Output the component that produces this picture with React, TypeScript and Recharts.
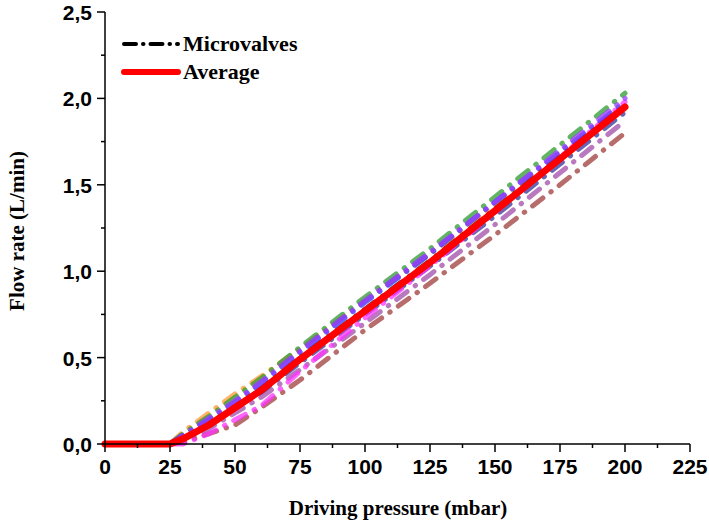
import { LineChart, Line, XAxis, YAxis } from 'recharts'

// driving pressure (mbar)
const pressure = [0, 25, 30, 40, 50, 60, 75, 100, 125, 150, 175, 200]

// flow rate (L/min) per microvalve
const orange = [0, 0, 0.07, 0.18, 0.29, 0.39, 0.55, 0.83, 1.1, 1.38, 1.67, 1.96]
const green = [0, 0, 0.06, 0.16, 0.27, 0.38, 0.56, 0.85, 1.13, 1.43, 1.73, 2.03]
const violet = [0, 0, 0.05, 0.15, 0.25, 0.36, 0.54, 0.83, 1.11, 1.4, 1.7, 2.0]
const blue = [0, 0, 0.05, 0.14, 0.24, 0.35, 0.53, 0.82, 1.1, 1.4, 1.69, 1.98]
const magenta = [0, 0, 0.0, 0.06, 0.14, 0.22, 0.42, 0.73, 1.03, 1.34, 1.66, 1.98]
const navy = [0, 0, 0.03, 0.12, 0.21, 0.3, 0.47, 0.75, 1.03, 1.32, 1.62, 1.92]
const purple = [0, 0, 0.02, 0.09, 0.18, 0.27, 0.43, 0.7, 0.98, 1.27, 1.57, 1.87]
const brown = [0, 0, 0.01, 0.06, 0.11, 0.21, 0.37, 0.66, 0.93, 1.21, 1.5, 1.8]
const black = [0, 0, 0.04, 0.12, 0.22, 0.32, 0.5, 0.78, 1.06, 1.36, 1.66, 1.96]

const average = [0, 0, 0.03, 0.11, 0.21, 0.31, 0.49, 0.77, 1.05, 1.35, 1.65, 1.95]

const xTicks = [0, 12.5, 25, 37.5, 50, 62.5, 75, 87.5, 100, 112.5, 125, 137.5, 150, 162.5, 175, 187.5, 200, 212.5, 225]
const yTicks = [0, 0.25, 0.5, 0.75, 1, 1.25, 1.5, 1.75, 2, 2.25, 2.5]

const valves = [
  { key: 'orange', color: '#ff9933', values: orange },
  { key: 'green', color: '#2e9a2e', values: green },
  { key: 'brown', color: '#a03c3c', values: brown },
  { key: 'purple', color: '#a04ca8', values: purple },
  { key: 'navy', color: '#33339a', values: navy },
  { key: 'black', color: '#111111', values: black },
  { key: 'magenta', color: '#ff33ff', values: magenta },
  { key: 'blue', color: '#3333ff', values: blue },
  { key: 'violet', color: '#9b3dff', values: violet },
]

const data = pressure.map((p, i) => {
  const row: any = { p, avg: average[i] }
  valves.forEach((v) => (row[v.key] = v.values[i]))
  return row
})

const tickFont = { fontFamily: 'Liberation Sans, Arial, sans-serif', fontWeight: 'bold', fontSize: 21, fill: '#000' }
const titleFont = { fontFamily: 'Liberation Serif, Times New Roman, serif', fontWeight: 'bold', fontSize: 21, fill: '#000' }

const YTick = ({ x, y, payload }: any) => {
  const v = payload.value
  const major = Math.abs(v * 2 - Math.round(v * 2)) < 1e-6
  return (
    <g>
      <line x1={x + (major ? 4 : 8)} x2={x + 12} y1={y} y2={y} stroke="#000" strokeWidth={1.5} />
      {major && (
        <text x={x - 1} y={y} dy={8} textAnchor="end" {...tickFont}>
          {v.toFixed(1).replace('.', ',')}
        </text>
      )}
    </g>
  )
}

const XTick = ({ x, y, payload }: any) => {
  const v = payload.value
  const major = v % 25 === 0
  return (
    <g>
      <line x1={x} x2={x} y1={y - 12} y2={y - (major ? 4 : 8)} stroke="#000" strokeWidth={1.5} />
      {major && (
        <text x={x} y={y} dy={18} textAnchor="middle" {...tickFont}>
          {v}
        </text>
      )}
    </g>
  )
}

export default function App() {
  return (
    <div style={{ position: 'absolute', left: 0, top: 0, width: 709, height: 524, background: '#fff' }}>
      <LineChart width={709} height={524} data={data} margin={{ top: 12, right: 19, left: 0, bottom: 0 }}>
        <XAxis
          dataKey="p"
          type="number"
          domain={[0, 225]}
          ticks={xTicks}
          interval={0}
          height={80}
          tickSize={8}
          tickMargin={4}
          tickLine={false}
          tick={<XTick />}
          axisLine={{ stroke: '#000', strokeWidth: 1.5 }}
        />
        <YAxis
          type="number"
          domain={[0, 2.5]}
          ticks={yTicks}
          interval={0}
          width={105}
          tickSize={8}
          tickMargin={4}
          tickLine={false}
          tick={<YTick />}
          axisLine={{ stroke: '#000', strokeWidth: 1.5 }}
        />
        {valves.map((v) => (
          <Line
            key={v.key}
            dataKey={v.key}
            type="linear"
            stroke={v.color}
            strokeWidth={5}
            strokeLinecap="round"
            strokeDasharray="13 10 0.5 10"
            strokeOpacity={0.75}
            dot={false}
            isAnimationActive={false}
          />
        ))}
        <Line
          dataKey="avg"
          type="linear"
          stroke="#ff0000"
          strokeWidth={7}
          strokeLinecap="round"
          strokeLinejoin="round"
          dot={false}
          isAnimationActive={false}
        />
      </LineChart>
      <svg width={709} height={524} style={{ position: 'absolute', left: 0, top: 0, pointerEvents: 'none' }}>
        <line x1={124} x2={178} y1={44} y2={44} stroke="#000" strokeWidth={4} strokeLinecap="round" strokeDasharray="12 7 0.5 7" />
        <text x={183} y={51} {...titleFont} fontSize={22}>Microvalves</text>
        <line x1={124} x2={178} y1={72} y2={72} stroke="#ff0000" strokeWidth={6} strokeLinecap="round" />
        <text x={183} y={79} {...titleFont} fontSize={22}>Average</text>
        <text x={398} y={515} textAnchor="middle" {...titleFont}>Driving pressure (mbar)</text>
        <text x={24} y={231} textAnchor="middle" transform="rotate(-90 24 231)" {...titleFont}>Flow rate (L/min)</text>
      </svg>
    </div>
  )
}
